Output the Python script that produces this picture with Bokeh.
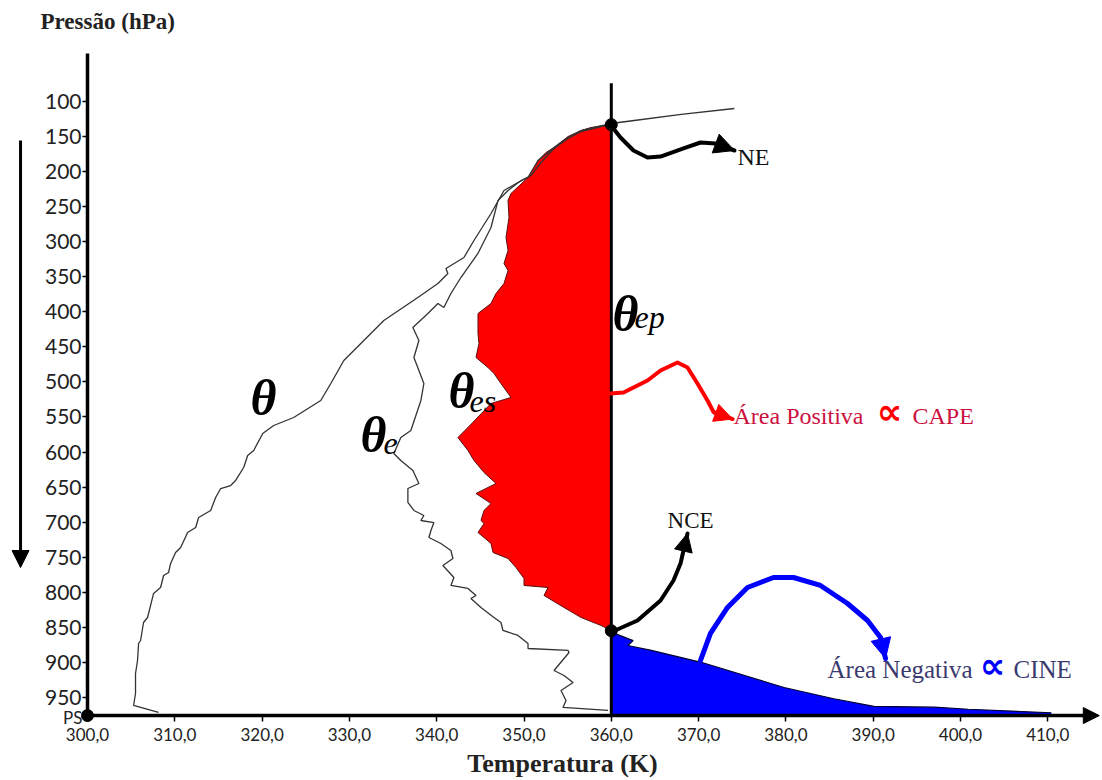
from bokeh.plotting import figure
from bokeh.models import Range1d, Label, Arrow, NormalHead, FixedTicker, LinearAxis
from bokeh.embed import file_html
from bokeh.resources import INLINE

# ---------------- data (T in K, P in hPa) ----------------
x_ticks = [300, 310, 320, 330, 340, 350, 360, 370, 380, 390, 400, 410]
x_tick_labels = ["300,0", "310,0", "320,0", "330,0", "340,0", "350,0", "360,0",
                 "370,0", "380,0", "390,0", "400,0", "410,0"]
y_ticks = [100, 150, 200, 250, 300, 350, 400, 450, 500, 550, 600, 650, 700,
           750, 800, 850, 900, 950]

PS = 976.0
theta_ep = 360.0
NE_level = 133.0
NCE_level = 855.0

theta_T = [308.14, 305.28, 305.50, 305.50, 305.73, 305.85, 306.08, 306.42, 306.88, 307.57,
           308.37, 308.72, 309.29, 309.52, 310.09, 310.67, 311.47, 312.39, 312.73, 314.11,
           314.68, 315.25, 316.40, 316.97, 317.89, 318.35, 319.04, 320.07, 321.33, 323.62,
           326.72, 327.87, 329.36, 331.31, 333.94, 337.84, 340.14, 341.28, 341.06, 343.12,
           344.27, 346.22, 347.71, 349.31, 350.46, 351.61, 353.44, 355.05, 356.54, 358.37,
           359.98, 362.62, 368.01, 374.09]
theta_P = [971.6, 961.6, 944.5, 916.0, 897.4, 873.2, 868.9, 843.2, 836.1, 801.8,
           793.3, 776.2, 771.9, 759.0, 743.4, 736.2, 714.8, 707.7, 693.4, 683.4,
           664.9, 652.1, 647.8, 640.6, 622.1, 605.0, 597.9, 573.6, 562.2, 550.8,
           526.5, 502.3, 469.5, 445.2, 412.4, 379.6, 359.6, 345.4, 338.2, 322.5,
           298.3, 259.8, 227.0, 215.5, 208.4, 184.2, 165.6, 151.4, 141.4, 135.7,
           131.4, 127.1, 118.5, 110.0]

theta_e_T = [359.63, 354.47, 354.81, 354.24, 355.62, 354.58, 353.44, 355.16, 355.05, 350.46,
             350.46, 349.31, 347.59, 347.36, 346.56, 345.07, 343.92, 344.50, 343.58, 341.63,
             341.97, 340.71, 341.86, 341.63, 340.48, 339.11, 339.34, 339.68, 338.19, 338.53,
             337.39, 336.70, 336.70, 337.96, 337.27, 335.89, 335.09, 335.89, 337.04, 338.19,
             338.53, 337.39, 337.96, 337.27, 338.99, 340.14, 340.82, 341.63, 342.77, 344.72,
             346.22, 347.02, 348.17, 349.66, 350.80, 351.95, 353.44, 355.05, 356.54, 358.37,
             359.75]
theta_e_P = [968.7, 964.4, 954.4, 940.2, 928.8, 918.8, 911.7, 886.0, 883.1, 880.3,
             873.2, 861.7, 854.6, 843.2, 836.1, 821.8, 809.0, 804.7, 794.7, 790.4,
             779.0, 761.9, 751.9, 740.5, 730.5, 722.0, 712.0, 700.6, 697.7, 690.6,
             683.4, 672.0, 652.1, 644.9, 626.4, 612.1, 602.1, 579.3, 569.3, 526.5,
             502.3, 465.2, 440.9, 422.4, 402.4, 388.1, 393.9, 373.9, 351.1, 316.8,
             279.7, 241.2, 227.0, 212.7, 205.6, 187.0, 167.0, 152.8, 142.8, 137.1,
             132.8]

theta_es_T = [360.0, 357.68, 356.54, 355.05, 353.44, 352.52, 351.61, 350.46, 348.51, 348.17,
              348.28, 347.94, 348.17, 347.71, 348.17, 347.71, 346.79, 346.22, 344.73, 344.73,
              344.84, 344.50, 345.87, 346.56, 347.36, 348.51, 346.22, 343.58, 342.43, 343.58,
              344.27, 345.42, 346.79, 344.50, 346.22, 345.42, 345.07, 345.42, 344.73, 346.22,
              346.45, 348.17, 349.08, 350.00, 350.00, 352.75, 352.29, 354.58, 356.54, 358.83,
              360.0]
theta_es_P = [133.0, 137.1, 141.4, 149.9, 165.6, 172.8, 184.2, 208.4, 231.2, 241.2,
              265.5, 294.0, 312.5, 331.1, 341.1, 359.6, 373.9, 388.1, 402.4, 431.0,
              445.2, 465.2, 479.4, 488.0, 502.3, 522.2, 530.8, 565.0, 579.3, 597.9,
              612.1, 629.2, 644.9, 659.2, 673.5, 683.4, 697.7, 702.0, 714.8, 730.5,
              743.4, 751.9, 764.8, 780.4, 790.4, 793.3, 804.7, 821.8, 836.1, 847.5,
              855.0]

cine_T = [360.0, 362.5, 361.9, 364.6, 370.3, 379.8, 385.5, 390.1, 397.0, 400.9, 410.4]
cine_P = [857.0, 869.0, 876.0, 883.0, 900.0, 936.0, 952.0, 963.0, 964.0, 967.0, 972.0]

# annotation arrow paths (T, P)
ne_arrow_T = [359.79, 361.05, 362.54, 364.15, 365.64, 368.27, 370.22, 371.94]
ne_arrow_P = [131.4, 151.4, 169.9, 179.9, 178.5, 167.0, 158.5, 159.9]
ne_tip = (374.11, 169.9)

cape_arrow_T = [359.91, 361.40, 364.15, 365.64, 367.58, 368.73, 369.87, 371.02, 371.71]
cape_arrow_P = [516.5, 515.1, 498.0, 483.7, 472.3, 479.4, 502.3, 526.5, 543.0]
cape_tip = (373.9, 553.0)

nce_arrow_T = [359.91, 363.00, 365.64, 367.12, 367.93, 368.27]
nce_arrow_P = [857.5, 840.4, 811.8, 783.3, 759.0, 740.5]
nce_tip = (368.73, 716.2)

cine_arrow_T = [370.22, 371.36, 373.31, 375.60, 378.58, 380.87, 383.96, 387.06, 389.35, 390.84]
cine_arrow_P = [897.4, 858.9, 821.8, 793.3, 779.0, 779.0, 790.4, 816.1, 840.4, 864.6]
cine_tip = (391.41, 894.6)

pressure_arrow_T = 292.33
pressure_arrow_P = (155.6, 764.8)

# ---------------- figure (frame covers the whole canvas) ----------------
W, H = 1100, 778
PX_PER_K = 8.73
PX_PER_HPA = 0.701
X0, Y0 = 87, 101          # pixel of T=300 K and P=100 hPa
x_range = Range1d(300 - X0 / PX_PER_K, 300 + (W - X0) / PX_PER_K)
y_range = Range1d(100 + (H - Y0) / PX_PER_HPA, 100 - Y0 / PX_PER_HPA)

p = figure(width=W, height=H, output_backend="svg", toolbar_location=None,
           x_range=x_range, y_range=y_range,
           x_axis_location=None, y_axis_location=None,
           min_border=0, min_border_left=0, min_border_right=0,
           min_border_top=0, min_border_bottom=0)
p.grid.visible = False
p.outline_line_color = None
p.background_fill_color = "white"
p.border_fill_color = "white"

xaxis = LinearAxis(fixed_location=PS, bounds=(300, 415.0))
yaxis = LinearAxis(fixed_location=300, bounds=(31.5, PS))
for ax in (xaxis, yaxis):
    ax.axis_line_width = 3.5
    ax.axis_line_color = "black"
    ax.major_tick_in = 0
    ax.major_tick_line_width = 1.5
    ax.minor_tick_line_color = None
    ax.major_label_text_font = "Lato"
    ax.major_label_text_color = "#222222"

xaxis.ticker = FixedTicker(ticks=x_ticks)
xaxis.major_label_overrides = {t: l for t, l in zip(x_ticks, x_tick_labels)}
xaxis.major_tick_out = 6
xaxis.major_label_text_font_size = "17px"
xaxis.major_label_standoff = 6

yaxis.ticker = FixedTicker(ticks=y_ticks)
yaxis.major_tick_out = 5
yaxis.major_label_text_font_size = "21px"
yaxis.major_label_standoff = 1

p.add_layout(xaxis, "below")
p.add_layout(yaxis, "left")

# areas
p.patch(theta_es_T + [theta_ep], theta_es_P + [NE_level], fill_color="#FF0000", line_color=None)
p.line(theta_es_T, theta_es_P, line_color="#5a1010", line_width=1)
p.patch(cine_T + [cine_T[-1], theta_ep], cine_P + [PS, PS], fill_color="#0000FF", line_color=None)
p.line(cine_T, cine_P, line_color="#000033", line_width=1.2)

# profiles
p.line(theta_T, theta_P, line_color="#333333", line_width=1.3)
p.line(theta_e_T, theta_e_P, line_color="#333333", line_width=1.3)

# theta_ep vertical
p.line([theta_ep, theta_ep], [74.0, PS], line_color="black", line_width=3)

# arrows
def curved_arrow(xs, ys, tip, color, width, head):
    p.line(xs + [tip[0]], ys + [tip[1]], line_color=color, line_width=width,
           line_cap="round", line_join="round")
    p.add_layout(Arrow(end=NormalHead(size=head, fill_color=color, line_color=color),
                       x_start=xs[-1], y_start=ys[-1], x_end=tip[0], y_end=tip[1],
                       line_color=color, line_width=width))

curved_arrow(ne_arrow_T, ne_arrow_P, ne_tip, "black", 4, 20)
curved_arrow(cape_arrow_T, cape_arrow_P, cape_tip, "#FF0000", 4, 18)
curved_arrow(nce_arrow_T, nce_arrow_P, nce_tip, "black", 4, 18)
curved_arrow(cine_arrow_T, cine_arrow_P, cine_tip, "#0000FF", 5, 20)

# dots
p.scatter([theta_ep, theta_ep, 300], [NE_level, NCE_level, PS], size=12, color="black")

# axis arrow head (x) and pressure arrow (left)
p.add_layout(Arrow(end=NormalHead(size=16, fill_color="black", line_color="black"),
                   x_start=414.0, y_start=PS, x_end=415.9, y_end=PS, line_width=3.5))
p.add_layout(Arrow(end=NormalHead(size=17, fill_color="black", line_color="black"),
                   x_start=pressure_arrow_T, y_start=pressure_arrow_P[0],
                   x_end=pressure_arrow_T, y_end=pressure_arrow_P[1], line_width=3))

# texts (y given as the wanted baseline; svg text sits ~0.35 em low, so lift it)
def lab(x, y, t, size, font="Liberation Serif", style="normal", color="black", align="left"):
    lift = 0.35 * size / PX_PER_HPA
    p.add_layout(Label(x=x, y=y - lift, text=t, text_font=font, text_font_size=f"{size}px",
                       text_font_style=style, text_color=color, text_align=align,
                       text_baseline="alphabetic"))

lab(294.62, -2.7, "Pressão (hPa)", 23, style="bold", color="#222222")
lab(354.41, 1057.2, "Temperatura (K)", 26, style="bold", color="#222222", align="center")
lab(299.43, 987.3, "PS", 17, font="Lato", color="#222222", align="right")

lab(318.67, 547.9, "θ", 50, style="bold italic")
lab(331.27, 600.7, "θ", 50, style="bold italic")
lab(333.91, 603.6, "e", 32, style="italic")
lab(341.35, 537.9, "θ", 50, style="bold italic")
lab(343.76, 543.6, "es", 32, style="italic")
lab(360.14, 428.1, "θ", 50, style="bold italic")
lab(362.66, 423.8, "ep", 32, style="italic")

lab(374.46, 191.3, "NE", 24, color="#111111")
lab(366.44, 709.1, "NCE", 23, color="#111111")

lab(374.0, 560.8, "Área Positiva", 24, color="#CC1040")
lab(390.4, 560.8, "∝", 36, font="DejaVu Sans", style="bold", color="#FF0000")
lab(394.5, 560.8, "CAPE", 24, color="#CC1040")

lab(384.77, 923.1, "Área Negativa", 25, color="#3a3a6e")
lab(402.2, 923.1, "∝", 36, font="DejaVu Sans", style="bold", color="#0000FF")
lab(406.07, 923.1, "CINE", 25, color="#3a3a6e")

open("out.html", "w").write(file_html(p, INLINE))
